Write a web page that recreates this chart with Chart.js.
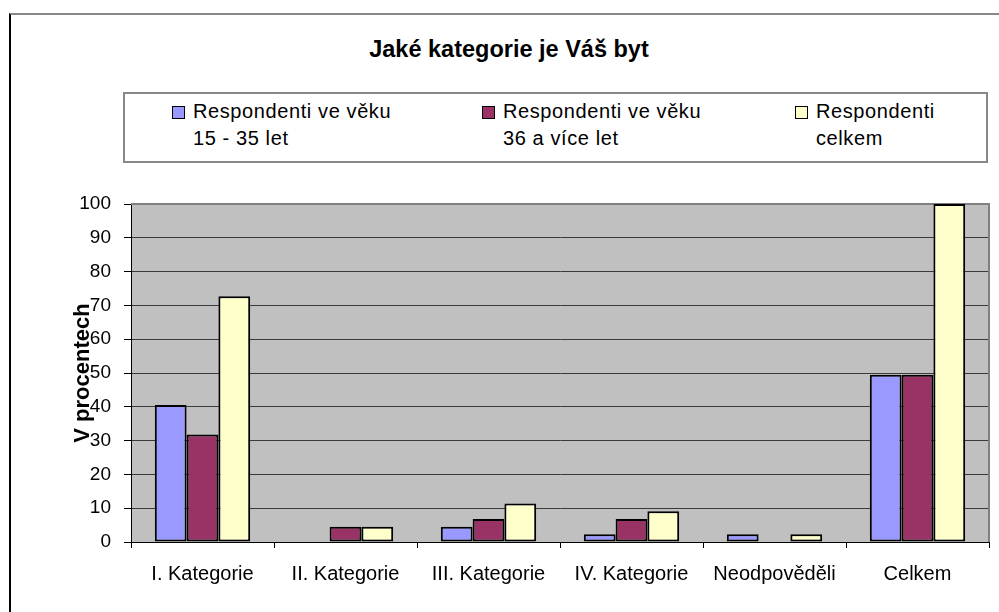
<!DOCTYPE html>
<html>
<head>
<meta charset="utf-8">
<script src="https://cdn.jsdelivr.net/npm/chart.js@4/dist/chart.umd.min.js"></script>
<style>
  html, body { margin: 0; padding: 0; background: #fff; }
  #wrap { position: relative; width: 999px; height: 612px; overflow: hidden; font-family: "Liberation Sans", Arial, sans-serif; }
  #frame { position: absolute; left: 9px; top: 13px; width: 1100px; height: 700px; border-left: 2px solid #000; border-top: 2px solid #888; }
  #title { position: absolute; left: 0; width: 1018px; top: 36px; text-align: center; font-weight: bold; font-size: 23.5px; color: #000; }
  #legend { position: absolute; left: 123px; top: 92px; width: 861px; height: 67px; border: 2px solid #888; background: #fff; }
  .item { position: absolute; top: 4px; font-size: 20px; letter-spacing: 0.6px; line-height: 27px; color: #000; }
  .item .box { position: absolute; left: -21px; top: 8px; width: 11px; height: 11px; border: 1.5px solid #000; }
  canvas { position: absolute; left: 0; top: 0; }
</style>
</head>
<body>
<div id="wrap">
  <div id="frame"></div>
  <div id="title">Jaké kategorie je Váš byt</div>
  <div id="legend"></div>
  <canvas id="chart" width="999" height="612"></canvas>
</div>
<script>
const categories = ['I. Kategorie', 'II. Kategorie', 'III. Kategorie', 'IV. Kategorie', 'Neodpověděli', 'Celkem'];
const seriesNames = [['Respondenti ve věku', '15 - 35 let'], ['Respondenti ve věku', '36 a více let'], ['Respondenti', 'celkem']];
const young = [40.5, 0, 4.5, 2.3, 2.3, 49.5];
const older = [31.8, 4.5, 6.8, 6.8, 0, 49.5];
const total = [72.7, 4.5, 11.4, 9.1, 2.3, 100];
const colors = ['#9999FF', '#993366', '#FFFFCC'];
const yTicks = [0, 10, 20, 30, 40, 50, 60, 70, 80, 90, 100];

// legend built as html, positions
const legendX = [68, 378, 691];
const legend = document.getElementById('legend');
seriesNames.forEach((lines, i) => {
    const d = document.createElement('div');
    d.className = 'item';
    d.style.left = legendX[i] + 'px';
    d.innerHTML = '<span class="box" style="background:' + colors[i] + '"></span>' + lines.join('<br>');
    legend.appendChild(d);
});

const plotBg = {
    id: 'plotBg',
    beforeDraw(chart) {
        const { ctx, chartArea: a } = chart;
        ctx.save();
        ctx.fillStyle = '#C0C0C0';
        ctx.fillRect(a.left, a.top, a.right - a.left, a.bottom - a.top);
        ctx.restore();
    },
    beforeDatasetsDraw(chart) {
        const { ctx, chartArea: a } = chart;
        ctx.save();
        ctx.strokeStyle = '#808080';
        ctx.lineWidth = 2;
        ctx.beginPath();
        ctx.moveTo(a.left, a.top);
        ctx.lineTo(a.right, a.top);
        ctx.lineTo(a.right, a.bottom);
        ctx.stroke();
        ctx.restore();
    }
};

const family = '"Liberation Sans", Arial, sans-serif';
const data = [young, older, total];

new Chart(document.getElementById('chart'), {
    type: 'bar',
    data: {
        labels: categories,
        datasets: data.map((vals, i) => ({
            label: seriesNames[i].join(' '),
            data: vals,
            backgroundColor: colors[i],
            borderColor: '#000',
            borderWidth: 2,
            borderSkipped: false,
            categoryPercentage: 0.667,
            barPercentage: 1.0
        }))
    },
    options: {
        responsive: false,
        animation: false,
        layout: { padding: { left: 68, right: 10, top: 204, bottom: 0 } },
        plugins: {
            legend: { display: false },
            tooltip: { enabled: false }
        },
        scales: {
            x: {
                afterFit: s => { s.height = 70; },
                grid: { display: true, drawOnChartArea: false, offset: true, tickLength: 6, color: '#000' },
                border: { color: '#000', width: 1 },
                ticks: { color: '#000', font: { family: family, size: 20 }, padding: 14, maxRotation: 0 }
            },
            y: {
                min: 0,
                max: 100,
                afterFit: s => { s.width = 63; },
                afterBuildTicks: s => { s.ticks = yTicks.map(v => ({ value: v })); },
                grid: { color: '#3a3a3a', tickLength: 7, tickColor: '#000' },
                border: { color: '#000', width: 1 },
                ticks: { color: '#000', font: { family: family, size: 19 }, padding: 13 },
                title: {
                    display: true,
                    text: 'V procentech',
                    color: '#000',
                    font: { family: family, size: 22, weight: 'bold' },
                    padding: { top: 2, bottom: 0 }
                }
            }
        }
    },
    plugins: [plotBg]
});
</script>
</body>
</html>
